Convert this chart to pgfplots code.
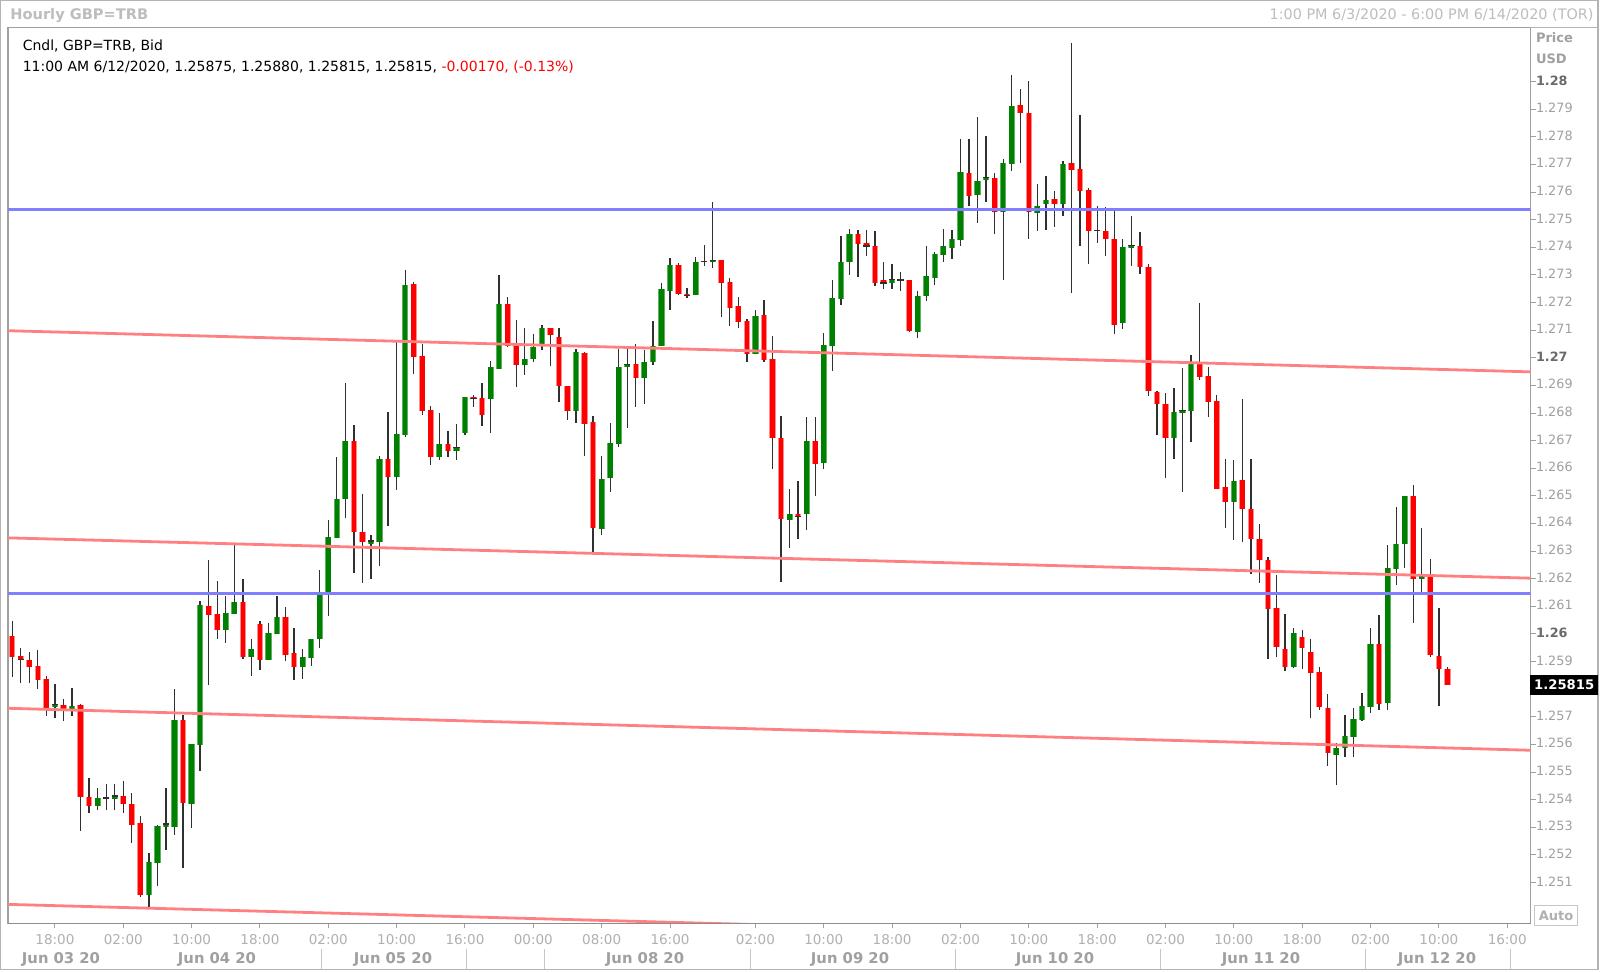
\documentclass[border=0pt]{standalone}
\usepackage{pgfplots}
\pgfplotsset{compat=1.18}
\usepackage{pgfplotstable}
\usepackage{fontspec}
\setmainfont{DejaVu Sans}
\definecolor{cred}{HTML}{FF0000}
\definecolor{credl}{HTML}{FF8C8C}
\definecolor{cgreen}{HTML}{008000}
\definecolor{cgreenl}{HTML}{5FAF5F}
\definecolor{wick}{HTML}{303030}
\definecolor{salmon}{HTML}{FF8080}
\definecolor{bluel}{HTML}{8080FF}
\definecolor{framegray}{HTML}{A0A0A0}
\definecolor{tgray}{HTML}{B0B0B0}
\definecolor{ygray}{HTML}{A0A0A0}
\definecolor{ydark}{HTML}{6A6A6A}
\definecolor{hdrgray}{HTML}{BDBDBD}

\pgfplotstableread{
i O H L C
0 1.25993 1.26048 1.25845 1.25918
1 1.25920 1.25952 1.25824 1.25908
2 1.25909 1.25938 1.25825 1.25882
3 1.25884 1.25942 1.25803 1.25836
4 1.25837 1.25848 1.25703 1.25731
5 1.25738 1.25821 1.25695 1.25745
6 1.25744 1.25764 1.25686 1.25728
7 1.25728 1.25807 1.25703 1.25742
8 1.25742 1.25747 1.25288 1.25409
9 1.25409 1.25480 1.25353 1.25377
10 1.25377 1.25445 1.25363 1.25406
11 1.25406 1.25456 1.25363 1.25406
12 1.25404 1.25456 1.25363 1.25413
13 1.25413 1.25469 1.25353 1.25384
14 1.25387 1.25424 1.25246 1.25311
15 1.25315 1.25341 1.25047 1.25056
16 1.25056 1.25210 1.25009 1.25176
17 1.25173 1.25310 1.25088 1.25305
18 1.25302 1.25443 1.25218 1.25312
19 1.25302 1.25801 1.25272 1.25688
20 1.25688 1.25707 1.25154 1.25387
21 1.25387 1.25601 1.25298 1.25601
22 1.25597 1.26119 1.25505 1.26104
23 1.26104 1.26270 1.25815 1.26070
24 1.26072 1.26193 1.25982 1.26014
25 1.26014 1.26138 1.25968 1.26076
26 1.26073 1.26326 1.26073 1.26118
27 1.26115 1.26198 1.25908 1.25918
28 1.25918 1.25983 1.25849 1.25948
29 1.26037 1.26048 1.25870 1.25905
30 1.25905 1.26039 1.25905 1.26003
31 1.26001 1.26138 1.26001 1.26062
32 1.26062 1.26097 1.25903 1.25924
33 1.25931 1.26022 1.25836 1.25882
34 1.25882 1.25948 1.25837 1.25918
35 1.25914 1.25982 1.25884 1.25982
36 1.25982 1.26234 1.25950 1.26141
37 1.26147 1.26416 1.26068 1.26351
38 1.26349 1.26644 1.26349 1.26492
39 1.26490 1.26910 1.26421 1.26699
40 1.26699 1.26756 1.26222 1.26370
41 1.26370 1.26509 1.26184 1.26333
42 1.26326 1.26358 1.26200 1.26337
43 1.26334 1.26644 1.26246 1.26634
44 1.26634 1.26804 1.26391 1.26569
45 1.26569 1.27058 1.26524 1.26724
46 1.26722 1.27318 1.26714 1.27266
47 1.27266 1.27274 1.26942 1.27004
48 1.27007 1.27052 1.26795 1.26807
49 1.26810 1.26825 1.26611 1.26642
50 1.26642 1.26801 1.26632 1.26690
51 1.26690 1.26735 1.26642 1.26663
52 1.26663 1.26759 1.26632 1.26674
53 1.26730 1.26858 1.26721 1.26858
54 1.26858 1.26865 1.26822 1.26853
55 1.26856 1.26910 1.26754 1.26793
56 1.26850 1.26990 1.26729 1.26966
57 1.26962 1.27300 1.26958 1.27196
58 1.27196 1.27220 1.27038 1.27042
59 1.27046 1.27140 1.26897 1.26974
60 1.26974 1.27110 1.26938 1.26998
61 1.26996 1.27086 1.26986 1.27040
62 1.27052 1.27118 1.27028 1.27109
63 1.27109 1.27109 1.26973 1.27084
64 1.27078 1.27109 1.26841 1.26898
65 1.26898 1.26898 1.26777 1.26807
66 1.26807 1.27032 1.26763 1.27020
67 1.27020 1.27020 1.26646 1.26763
68 1.26768 1.26789 1.26298 1.26383
69 1.26383 1.26644 1.26358 1.26564
70 1.26564 1.26765 1.26515 1.26693
71 1.26690 1.27035 1.26678 1.26968
72 1.26967 1.27044 1.26745 1.26976
73 1.26978 1.27051 1.26821 1.26928
74 1.26928 1.27028 1.26832 1.26986
75 1.26984 1.27133 1.26974 1.27044
76 1.27042 1.27272 1.27042 1.27250
77 1.27243 1.27362 1.27173 1.27337
78 1.27337 1.27342 1.27227 1.27234
79 1.27231 1.27252 1.27218 1.27225
80 1.27227 1.27365 1.27227 1.27350
81 1.27349 1.27408 1.27333 1.27349
82 1.27348 1.27563 1.27324 1.27353
83 1.27354 1.27354 1.27148 1.27272
84 1.27274 1.27291 1.27114 1.27179
85 1.27188 1.27221 1.27107 1.27131
86 1.27133 1.27140 1.26986 1.27015
87 1.27015 1.27173 1.27015 1.27151
88 1.27155 1.27209 1.26986 1.26992
89 1.26996 1.27079 1.26597 1.26711
90 1.26711 1.26789 1.26189 1.26415
91 1.26415 1.26527 1.26314 1.26437
92 1.26437 1.26555 1.26346 1.26425
93 1.26433 1.26787 1.26376 1.26699
94 1.26699 1.26787 1.26501 1.26618
95 1.26618 1.27089 1.26597 1.27045
96 1.27043 1.27282 1.26952 1.27218
97 1.27215 1.27441 1.27194 1.27348
98 1.27346 1.27465 1.27302 1.27448
99 1.27448 1.27463 1.27294 1.27415
100 1.27417 1.27463 1.27370 1.27405
101 1.27406 1.27459 1.27261 1.27273
102 1.27283 1.27348 1.27248 1.27271
103 1.27271 1.27339 1.27248 1.27283
104 1.27282 1.27311 1.27243 1.27282
105 1.27283 1.27283 1.27093 1.27097
106 1.27097 1.27243 1.27071 1.27227
107 1.27225 1.27407 1.27207 1.27296
108 1.27290 1.27382 1.27263 1.27376
109 1.27373 1.27465 1.27346 1.27404
110 1.27400 1.27462 1.27358 1.27430
111 1.27428 1.27792 1.27404 1.27672
112 1.27672 1.27792 1.27550 1.27589
113 1.27589 1.27872 1.27489 1.27640
114 1.27646 1.27803 1.27565 1.27652
115 1.27652 1.27670 1.27449 1.27529
116 1.27529 1.27722 1.27284 1.27705
117 1.27702 1.28026 1.27677 1.27913
118 1.27915 1.27972 1.27705 1.27887
119 1.27887 1.28002 1.27429 1.27529
120 1.27525 1.27630 1.27459 1.27550
121 1.27556 1.27658 1.27465 1.27571
122 1.27575 1.27604 1.27472 1.27556
123 1.27556 1.27713 1.27514 1.27703
124 1.27705 1.28139 1.27236 1.27680
125 1.27686 1.27879 1.27406 1.27604
126 1.27608 1.27614 1.27339 1.27459
127 1.27460 1.27550 1.27417 1.27460
128 1.27460 1.27547 1.27370 1.27429
129 1.27430 1.27533 1.27086 1.27119
130 1.27125 1.27430 1.27107 1.27402
131 1.27400 1.27513 1.27333 1.27406
132 1.27406 1.27457 1.27306 1.27328
133 1.27330 1.27339 1.26862 1.26881
134 1.26877 1.26880 1.26724 1.26833
135 1.26835 1.26874 1.26564 1.26711
136 1.26711 1.26890 1.26632 1.26803
137 1.26801 1.26962 1.26515 1.26808
138 1.26807 1.27010 1.26696 1.26978
139 1.26978 1.27200 1.26920 1.26932
140 1.26934 1.26968 1.26787 1.26841
141 1.26844 1.26865 1.26524 1.26527
142 1.26533 1.26636 1.26386 1.26479
143 1.26479 1.26632 1.26343 1.26555
144 1.26558 1.26853 1.26334 1.26453
145 1.26455 1.26632 1.26216 1.26346
146 1.26346 1.26398 1.26184 1.26268
147 1.26268 1.26278 1.25908 1.26090
148 1.26093 1.26216 1.25916 1.25952
149 1.25948 1.26072 1.25866 1.25882
150 1.25882 1.26021 1.25876 1.26005
151 1.25990 1.26014 1.25872 1.25948
152 1.25936 1.25982 1.25698 1.25861
153 1.25861 1.25882 1.25725 1.25735
154 1.25731 1.25783 1.25522 1.25570
155 1.25564 1.25606 1.25453 1.25588
156 1.25588 1.25707 1.25554 1.25631
157 1.25628 1.25731 1.25554 1.25691
158 1.25689 1.25787 1.25686 1.25739
159 1.25737 1.26021 1.25715 1.25966
160 1.25966 1.26069 1.25727 1.25749
161 1.25749 1.26322 1.25727 1.26238
162 1.26235 1.26459 1.26177 1.26328
163 1.26326 1.26501 1.26238 1.26501
164 1.26501 1.26539 1.26039 1.26202
165 1.26200 1.26383 1.26147 1.26207
166 1.26207 1.26272 1.25916 1.25924
167 1.25920 1.26093 1.25739 1.25873
168 1.25875 1.25880 1.25815 1.25815
}\candles

\begin{document}
\begin{tikzpicture}[x=0.5pt,y=0.5pt]
\fill[white] (0,0) rectangle (1600,972);
\begin{axis}[
  at={(4pt,24.25pt)}, anchor=south west,
  scale only axis, width=761.3pt, height=447.95pt,
  xmin=-0.491, xmax=177.74, ymin=1.249518, ymax=1.281955,
  clip mode=individual,
  axis line style={draw=framegray, line width=0.6pt},
  tick align=outside, major tick length=2.5pt,
  xtick pos=bottom, ytick pos=right, yticklabel pos=right,
  tick style={draw=framegray, line width=0.5pt},
  xtick={5,13,21,29,37,45,53,61,69,77,87,95,103,111,119,127,135,143,151,159,167,175},
  xticklabels={18:00,02:00,10:00,18:00,02:00,10:00,16:00,00:00,08:00,16:00,02:00,10:00,18:00,02:00,10:00,18:00,02:00,10:00,18:00,02:00,10:00,16:00},
  xticklabel style={font=\fontsize{6.75}{7}\selectfont, text=tgray, inner sep=0pt, anchor=north, yshift=-3pt},
  ytick={1.251,1.252,1.253,1.254,1.255,1.256,1.257,1.258,1.259,1.261,1.262,1.263,1.264,1.265,1.266,1.267,1.268,1.269,1.271,1.272,1.273,1.274,1.275,1.276,1.277,1.278,1.279},
  yticklabels={1.251,1.252,1.253,1.254,1.255,1.256,1.257,{},1.259,1.261,1.262,1.263,1.264,1.265,1.266,1.267,1.268,1.269,1.271,1.272,1.273,1.274,1.275,1.276,1.277,1.278,1.279},
  yticklabel style={font=\fontsize{6.4}{7}\selectfont, text=ygray, inner sep=0pt, anchor=west, yshift=0.6pt},
  extra y ticks={1.26,1.27,1.28},
  extra y tick labels={1.26,1.27,1.28},
  extra y tick style={yticklabel style={font=\bfseries\fontsize{6.4}{7}\selectfont, text=ydark}},
  scaled y ticks=false,
]
% wicks
\addplot[draw=none, mark=none, forget plot,
  error bars/.cd, y dir=both, y explicit, error mark=none,
  error bar style={draw=wick, line width=0.65pt}]
  table[x=i, y expr={(\thisrow{H}+\thisrow{L})/2}, y error expr={(\thisrow{H}-\thisrow{L})/2}]{\candles};
% red bodies
\addplot[draw=none, mark=none, forget plot,
  error bars/.cd, y dir=both, y explicit, error mark=none,
  error bar style={draw=credl, line width=3.1pt}]
  table[x=i, y expr={\thisrow{C}<\thisrow{O} ? (\thisrow{O}+\thisrow{C})/2 : nan}, y error expr={abs(\thisrow{O}-\thisrow{C})/2}]{\candles};
\addplot[draw=none, mark=none, forget plot,
  error bars/.cd, y dir=both, y explicit, error mark=none,
  error bar style={draw=cred, line width=2.3pt}]
  table[x=i, y expr={\thisrow{C}<\thisrow{O} ? (\thisrow{O}+\thisrow{C})/2 : nan}, y error expr={abs(\thisrow{O}-\thisrow{C})/2}]{\candles};
% green bodies
\addplot[draw=none, mark=none, forget plot,
  error bars/.cd, y dir=both, y explicit, error mark=none,
  error bar style={draw=cgreenl, line width=3.1pt}]
  table[x=i, y expr={\thisrow{C}>\thisrow{O} ? (\thisrow{O}+\thisrow{C})/2 : nan}, y error expr={abs(\thisrow{O}-\thisrow{C})/2}]{\candles};
\addplot[draw=none, mark=none, forget plot,
  error bars/.cd, y dir=both, y explicit, error mark=none,
  error bar style={draw=cgreen, line width=2.3pt}]
  table[x=i, y expr={\thisrow{C}>\thisrow{O} ? (\thisrow{O}+\thisrow{C})/2 : nan}, y error expr={abs(\thisrow{O}-\thisrow{C})/2}]{\candles};
% doji
\addplot[only marks, mark=-, mark size=1.6pt, mark options={draw=wick, line width=0.65pt}, forget plot]
  table[x=i, y expr={\thisrow{C}==\thisrow{O} ? \thisrow{C} : nan}]{\candles};
% channel lines
\addplot[salmon, line width=1.4pt, forget plot] coordinates {(-0.491,1.27098) (177.74,1.26949)};
\addplot[salmon, line width=1.4pt, forget plot] coordinates {(-0.491,1.26348) (177.74,1.26202)};
\addplot[salmon, line width=1.4pt, forget plot] coordinates {(-0.491,1.25731) (177.74,1.25579)};
\addplot[salmon, line width=1.4pt, forget plot] coordinates {(-0.491,1.25021) (177.74,1.24872)};
\addplot[bluel, line width=1.25pt, forget plot] coordinates {(-0.491,1.27537) (177.74,1.27537)};
\addplot[bluel, line width=1.25pt, forget plot] coordinates {(-0.491,1.26146) (177.74,1.26146)};
\end{axis}
% frame details
\draw[gray!90, line width=0.6pt] (8,48.5) -- (1530.6,48.5);
\draw[framegray!80, line width=0.6pt] (1530,944.4) -- (1598,944.4);
\draw[framegray!80, line width=0.6pt] (0.6,2.5) rectangle (1598,971.4);
% header
\node[anchor=west, inner sep=0pt, text=hdrgray, font=\bfseries\fontsize{7.3}{8}\selectfont] at (10,956.7) {Hourly GBP=TRB};
\node[anchor=east, inner sep=0pt, text=hdrgray, font=\fontsize{7.2}{8}\selectfont] at (1594,956.7) {1:00 PM 6/3/2020 - 6:00 PM 6/14/2020 (TOR)};
\node[anchor=west, inner sep=0pt, font=\fontsize{7}{8}\selectfont] at (22.4,926) {Cndl, GBP=TRB, Bid};
\node[anchor=west, inner sep=0pt, font=\fontsize{7}{8}\selectfont] at (22.4,904.7) {11:00 AM 6/12/2020, 1.25875, 1.25880, 1.25815, 1.25815, \textcolor{cred}{-0.00170, (-0.13\%)}};
% right axis titles
\node[anchor=west, inner sep=0pt, text=ygray, font=\bfseries\fontsize{6.5}{7}\selectfont] at (1535.6,934.2) {Price};
\node[anchor=west, inner sep=0pt, text=ygray, font=\bfseries\fontsize{6.5}{7}\selectfont] at (1535.6,912.8) {USD};
% current price box
\node[anchor=west, fill=black, text=white, inner sep=0pt, minimum width=34.2pt, minimum height=9.75pt, font=\bfseries\fontsize{6.6}{7}\selectfont] at (1529.6,286.9) {1.25815};
% Auto box
\node[draw=framegray!60, text=tgray, inner sep=0pt, minimum width=21.5pt, minimum height=9.8pt, font=\bfseries\fontsize{6.5}{7}\selectfont] at (1556,56.3) {Auto};
% date row
\foreach \xx in {321,466,544,750,955,1160,1365,1510} {\draw[framegray!60, line width=0.5pt] (\xx,3) -- (\xx,23);}
\foreach \xx/\lab in {61/Jun 03 20,217/Jun 04 20,393/Jun 05 20,645/Jun 08 20,850/Jun 09 20,1055/Jun 10 20,1261/Jun 11 20,1437/Jun 12 20}
  {\node[inner sep=0pt, text=ygray, font=\bfseries\fontsize{7.4}{8}\selectfont] at (\xx,12.8) {\lab};}
\end{tikzpicture}
\end{document}
